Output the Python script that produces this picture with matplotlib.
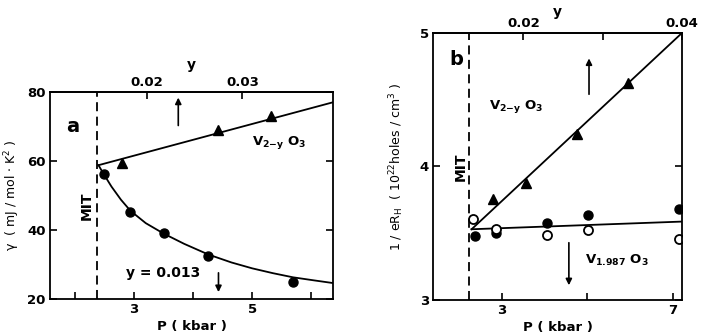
import matplotlib as mpl
mpl.use('Agg')

import matplotlib.pyplot as plt

# panel a: gamma vs pressure
tri_p_a = [2.79, 4.43, 5.31]
tri_g_a = [59.3, 68.9, 73.2]
line_p_a = [2.40, 6.38]
line_g_a = [58.8, 77.1]

circ_p_a = [2.49, 2.94, 3.50, 4.26, 5.69]
circ_g_a = [56.2, 45.1, 39.0, 32.6, 25.0]
curve_p_a = [2.40, 2.49, 2.62, 2.78, 2.94, 3.20, 3.50, 3.85, 4.26, 4.65, 5.00, 5.35, 5.69, 6.05, 6.38]
curve_g_a = [58.8, 56.2, 52.6, 48.8, 45.6, 42.0, 39.0, 36.0, 32.9, 30.6, 28.9, 27.5, 26.3, 25.4, 24.6]

# panel b: 1/eR_H vs pressure
tri_p_b = [2.81, 3.58, 4.75, 5.96]
tri_r_b = [3.76, 3.88, 4.24, 4.625]
line_p_b = [2.30, 7.21]
line_r_b = [3.53, 5.00]

fill_p_b = [2.38, 2.88, 4.05, 5.02, 7.13]
fill_r_b = [3.48, 3.505, 3.58, 3.64, 3.68]
open_p_b = [2.34, 2.88, 4.05, 5.02, 7.13]
open_r_b = [3.61, 3.53, 3.49, 3.525, 3.455]
flat_p_b = [2.30, 7.21]
flat_r_b = [3.53, 3.5875]

mit_a = 2.37
mit_b = 2.24

plt.rcParams['font.family'] = 'DejaVu Sans'
plt.rcParams['font.weight'] = 'bold'
plt.rcParams['axes.linewidth'] = 1.3
plt.rcParams['mathtext.default'] = 'regular'

fig = plt.figure(figsize=(7.08, 3.36), dpi=100)
ax1 = fig.add_axes([0.0706, 0.110, 0.400, 0.616])
ax2 = fig.add_axes([0.6116, 0.107, 0.3517, 0.795])

# ---- panel a
ax1.plot(line_p_a, line_g_a, 'k-', lw=1.3)
ax1.plot(curve_p_a, curve_g_a, 'k-', lw=1.3)
ax1.plot(tri_p_a, tri_g_a, 'k^', ms=7.5)
ax1.plot(circ_p_a, circ_g_a, 'ko', ms=6.5)
ax1.axvline(mit_a, color='k', ls=(0, (5, 3)), lw=1.3)
ax1.set_xlim(1.58, 6.37)
ax1.set_ylim(20, 80)
ax1.set_xticks([2, 3, 4, 5, 6])
ax1.set_xticklabels(['', '3', '', '5', ''])
ax1.set_yticks([20, 40, 60, 80])
ax1.tick_params(direction='in', right=True, length=5, width=1.2, labelsize=9.5, pad=3)
ax1.set_xlabel('P ( kbar )', fontsize=9.5, fontweight='bold', labelpad=3)
ax1.set_ylabel(r'$\gamma$  ( mJ / mol $\cdot$ K$^2$ )', fontsize=9, labelpad=4)

sec1 = ax1.secondary_xaxis('top', functions=(lambda p: 0.02 + (p - 3.215) / 162.1,
                                             lambda y: 3.215 + (y - 0.02) * 162.1))
sec1.set_xticks([0.02, 0.03])
sec1.set_xticklabels(['0.02', '0.03'])
sec1.tick_params(direction='in', length=5, width=1.2, labelsize=9.5, pad=2)
sec1.set_xlabel('y', fontsize=10, fontweight='bold', labelpad=5)

ax1.text(1.97, 70, 'a', fontsize=14, fontweight='bold', ha='center', va='center')
ax1.text(2.20, 47, 'MIT', fontsize=10, rotation=90, ha='center', va='center')
ax1.text(5.0, 65.5, r'V$_{2\mathrm{-}y}$ O$_3$', fontsize=9.5, ha='left', va='center')
ax1.text(2.86, 27.5, 'y = 0.013', fontsize=10, ha='left', va='center')
ax1.annotate('', xy=(3.75, 79.2), xytext=(3.75, 69.5),
             arrowprops=dict(arrowstyle='-|>', color='k', lw=1.2, mutation_scale=9))
ax1.annotate('', xy=(4.43, 21.2), xytext=(4.43, 28.4),
             arrowprops=dict(arrowstyle='-|>', color='k', lw=1.2, mutation_scale=9))

# ---- panel b
ax2.plot(line_p_b, line_r_b, 'k-', lw=1.3)
ax2.plot(flat_p_b, flat_r_b, 'k-', lw=1.3)
ax2.plot(tri_p_b, tri_r_b, 'k^', ms=7.5)
ax2.plot(fill_p_b, fill_r_b, 'ko', ms=6.5)
ax2.plot(open_p_b, open_r_b, 'o', ms=6.5, mfc='white', mec='k', mew=1.3)
ax2.axvline(mit_b, color='k', ls=(0, (5, 3)), lw=1.3)
ax2.set_xlim(1.40, 7.21)
ax2.set_ylim(3, 5)
ax2.set_xticks([3, 5, 7])
ax2.set_xticklabels(['3', '', '7'])
ax2.set_yticks([3, 4, 5])
ax2.tick_params(direction='in', right=True, length=5, width=1.2, labelsize=9.5, pad=3)
ax2.set_xlabel('P ( kbar )', fontsize=9.5, fontweight='bold', labelpad=3)
ax2.set_ylabel(r'1 / eR$_H$  ( 10$^{22}$holes / cm$^3$ )', fontsize=9, labelpad=10)

sec2 = ax2.secondary_xaxis('top', functions=(lambda p: 0.02 + (p - 3.507) / 185.0,
                                             lambda y: 3.507 + (y - 0.02) * 185.0))
sec2.set_xticks([0.02, 0.03, 0.04])
sec2.set_xticklabels(['0.02', '', '0.04'])
sec2.tick_params(direction='in', length=5, width=1.2, labelsize=9.5, pad=2)
sec2.set_xlabel('y', fontsize=10, fontweight='bold', labelpad=1)

ax2.text(1.95, 4.8, 'b', fontsize=14, fontweight='bold', ha='center', va='center')
ax2.text(2.05, 4.0, 'MIT', fontsize=10, rotation=90, ha='center', va='center')
ax2.text(2.70, 4.45, r'V$_{2\mathrm{-}y}$ O$_3$', fontsize=9.5, ha='left', va='center')
ax2.text(4.95, 3.3, r'V$_{1.987}$ O$_3$', fontsize=9.5, ha='left', va='center')
ax2.annotate('', xy=(5.04, 4.83), xytext=(5.04, 4.52),
             arrowprops=dict(arrowstyle='-|>', color='k', lw=1.2, mutation_scale=9))
ax2.annotate('', xy=(4.57, 3.09), xytext=(4.57, 3.45),
             arrowprops=dict(arrowstyle='-|>', color='k', lw=1.2, mutation_scale=9))

plt.savefig('out.png', dpi=100)
plt.close()
